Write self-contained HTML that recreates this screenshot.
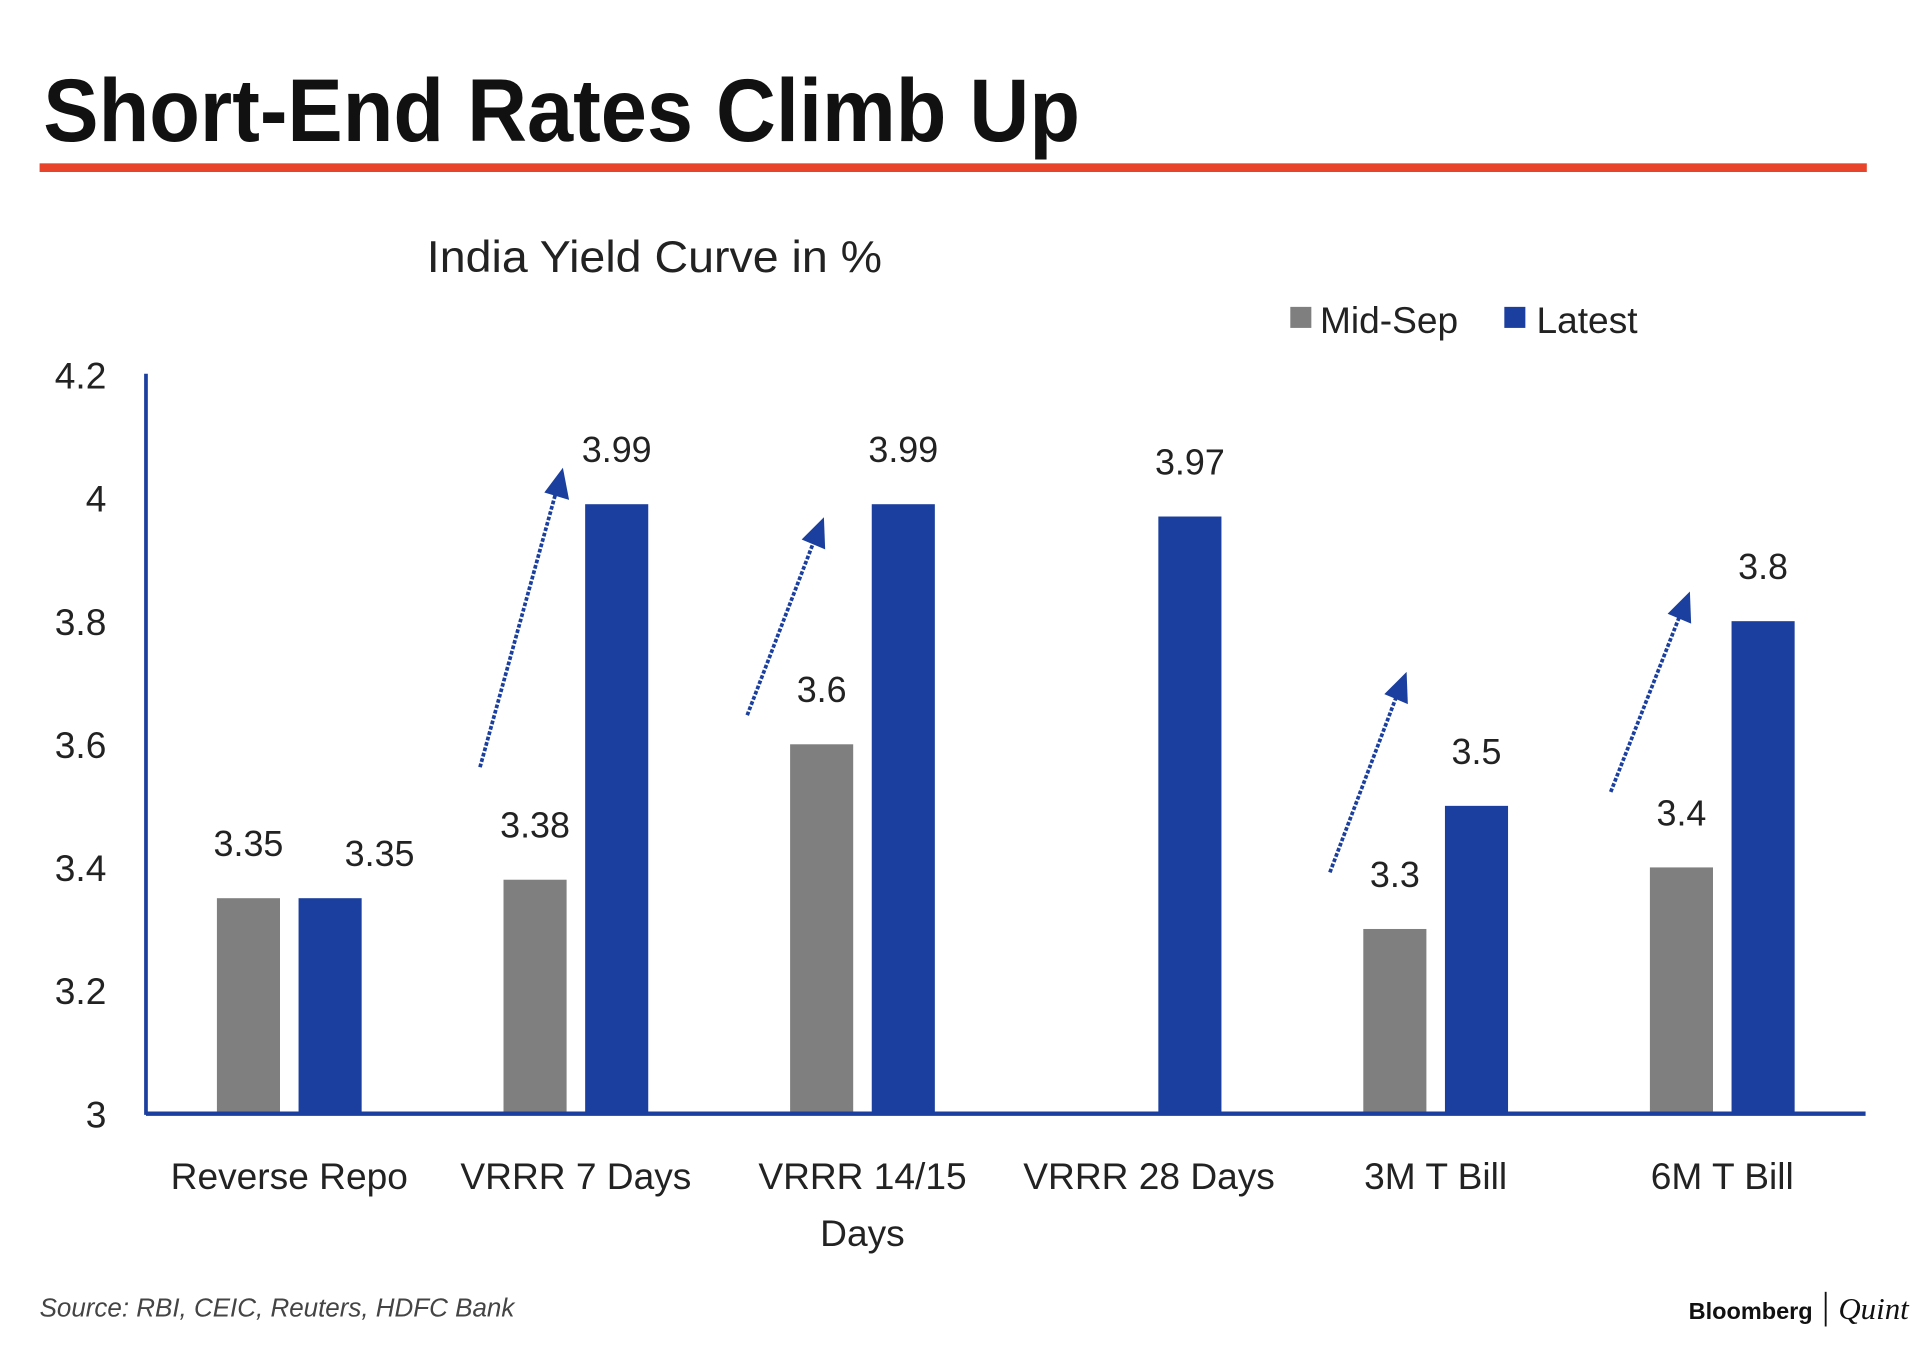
<!DOCTYPE html>
<html><head><meta charset="utf-8"><style>
html,body{margin:0;padding:0;background:#fff;}
svg{display:block;}
</style></head><body>
<svg id="chart" width="1920" height="1350" viewBox="0 0 1552 1091" preserveAspectRatio="none" xmlns="http://www.w3.org/2000/svg" font-family="Liberation Sans, sans-serif">
<text x="35" y="114" font-size="72" font-weight="bold" fill="#111" textLength="838" lengthAdjust="spacingAndGlyphs">Short-End Rates Climb Up</text>
<rect x="32" y="132" width="1477" height="7" fill="#e8442b"/>
<text x="345" y="220" font-size="36" fill="#222" textLength="368" lengthAdjust="spacingAndGlyphs">India Yield Curve in %</text>
<rect x="1043" y="248" width="17" height="17" fill="#7f7f7f"/>
<text x="1067" y="269" font-size="30" fill="#222">Mid-Sep</text>
<rect x="1216" y="248" width="17" height="17" fill="#1b3f9e"/>
<text x="1242" y="269" font-size="30" fill="#222">Latest</text>
<g id="plot"></g>
<g stroke="#1b3f9e" stroke-width="3" stroke-dasharray="3 1.5" fill="none">
<line x1="388" y1="620" x2="451" y2="392"/><line x1="604" y1="578" x2="660" y2="432"/>
<line x1="1075" y1="705" x2="1131" y2="557"/><line x1="1302" y1="640" x2="1360" y2="492"/>
</g>
<g fill="#1b3f9e">
<polygon points="455,378 460,404 440,398"/><polygon points="666,418 667,444 648,436"/>
<polygon points="1137,543 1138,569 1119,561"/><polygon points="1366,478 1367,504 1348,496"/>
</g>
<text x="32" y="1064" font-size="21" font-style="italic" fill="#444">Source: RBI, CEIC, Reuters, HDFC Bank</text>
<text x="1365" y="1066" font-size="19" font-weight="bold" fill="#111">Bloomberg</text>
<rect x="1475" y="1044" width="1.5" height="28" fill="#111"/>
<text x="1486" y="1066" font-size="25" font-style="italic" font-family="Liberation Serif, serif" fill="#111">Quint</text>
</svg>
<script>
const categories = ["Reverse Repo","VRRR 7 Days","VRRR 14/15|Days","VRRR 28 Days","3M T Bill","6M T Bill"];
const midSep = [3.35, 3.38, 3.6, null, 3.3, 3.4];
const latest = [3.35, 3.99, 3.99, 3.97, 3.5, 3.8];
const yTicks = [3, 3.2, 3.4, 3.6, 3.8, 4, 4.2];
const yTickLabels = ["3","3.2","3.4","3.6","3.8","4","4.2"];

const NS = "http://www.w3.org/2000/svg";
const g = document.getElementById('plot');
const X0 = 118, X1 = 1508, Y0 = 900, Y1 = 303, VMIN = 3, VMAX = 4.2;
const yScale = v => Y0 - (v - VMIN) / (VMAX - VMIN) * (Y0 - Y1);
const band = (X1 - X0) / categories.length;
const xCenter = i => X0 + band * (i + 0.5);
const BW = 51, GAP = 15;
function mk(tag, attrs) { const e = document.createElementNS(NS, tag); for (const k in attrs) e.setAttribute(k, attrs[k]); g.appendChild(e); return e; }

yTicks.forEach((t, i) => {
  const e = mk('text', {x: 86, y: yScale(t) + 11, 'font-size': 30, 'text-anchor': 'end', fill: '#222'});
  
  
  e.textContent = yTickLabels[i];
});

function drawSeries(vals, other, color, offset, name, isSecond) {
  vals.forEach((v, i) => {
    if (v == null) return;
    const cx = xCenter(i) + offset;
    const r = mk('rect', {x: cx - BW / 2, y: yScale(v), width: BW, height: Y0 - yScale(v), fill: color});
    
    
    const clash = isSecond && other[i] != null && Math.abs(other[i] - v) < 0.03;
    const t = mk('text', {x: cx + (clash ? 40 : 0), y: yScale(v) - 34 + (clash ? 8 : 0), 'font-size': 29, 'text-anchor': 'middle', fill: '#222'});
    
    
    t.textContent = String(v);
  });
}
drawSeries(midSep, latest, '#7f7f7f', -(BW + GAP) / 2, 'mid-sep', false);
drawSeries(latest, midSep, '#1b3f9e', (BW + GAP) / 2, 'latest', true);

const ya = mk('line', {x1: X0, y1: Y1 - 1, x2: X0, y2: Y0 + 1, stroke: '#1b3f9e', 'stroke-width': 3});


const xa = mk('line', {x1: X0, y1: Y0, x2: X1, y2: Y0, stroke: '#1b3f9e', 'stroke-width': 3.5});



categories.forEach((c, i) => {
  c.split('|').forEach((line, j) => {
    const t = mk('text', {x: xCenter(i), y: 961 + j * 46, 'font-size': 30, 'text-anchor': 'middle', fill: '#222'});
    
    
    t.textContent = line;
  });
});
</script>
</body></html>
